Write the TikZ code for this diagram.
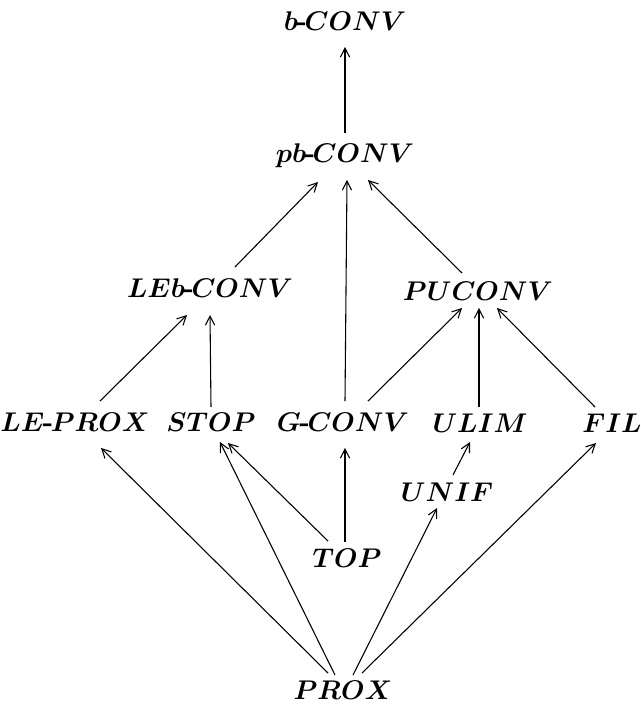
\documentclass[tikz,border=0pt]{standalone}
\usetikzlibrary{arrows.meta}
\newcommand{\lbl}[1]{{\boldmath$#1$}}
\newcommand{\hy}{\textbf{\kern-0.6pt-\kern-0.9pt}}
\begin{document}
\begin{tikzpicture}[x=0.37pt,y=-0.37pt,
  lab/.style={inner sep=0pt,font=\fontsize{10.3}{12}\selectfont},
  arr/.style={-{Straight Barb[length=3.3pt,width=3.4pt]},line width=0.4pt}]
\useasboundingbox (0,0) rectangle (641,707);
\node[lab] (bconv)   at (345,21)  {\lbl{b}\hy\lbl{CONV}};
\node[lab] (pbconv)  at (345,156) {\lbl{pb}\hy\lbl{CONV}};
\node[lab] (lebconv) at (210,288) {\lbl{LEb}\hy\lbl{CONV}};
\node[lab] (puconv)  at (478,291) {\lbl{PUCONV}};
\node[lab] (leprox)  at (75,422)  {\lbl{LE}\hy\lbl{PROX}};
\node[lab] (stop)    at (211,422) {\lbl{STOP}};
\node[lab] (gconv)   at (343,422) {\lbl{G}\hy\lbl{CONV}};
\node[lab] (ulim)    at (480,423) {\lbl{ULIM}};
\node[lab] (fil)     at (612,423) {\lbl{FIL}};
\node[lab] (unif)    at (447,492) {\lbl{UNIF}};
\node[lab] (top)     at (347,558) {\lbl{TOP}};
\node[lab] (prox)    at (343,690) {\lbl{PROX}};
\draw[arr] ([shift={(0,-23)}]pbconv.center) -- ([shift={(0,26)}]bconv.center);
\draw[arr] ([shift={(25,-21)}]lebconv.center) -- ([shift={(-27,26)}]pbconv.center);
\draw[arr] ([shift={(2,-21)}]gconv.center) -- ([shift={(2,24)}]pbconv.center);
\draw[arr] ([shift={(-16,-18)}]puconv.center) -- ([shift={(23,24)}]pbconv.center);
\draw[arr] ([shift={(25,-21)}]leprox.center) -- ([shift={(-23,27)}]lebconv.center);
\draw[arr] ([shift={(0,-15)}]stop.center) -- ([shift={(0,27)}]lebconv.center);
\draw[arr] ([shift={(25,-21)}]gconv.center) -- ([shift={(-16,17)}]puconv.center);
\draw[arr] ([shift={(-1,-16)}]ulim.center) -- ([shift={(1,17)}]puconv.center);
\draw[arr] ([shift={(-17,-16)}]fil.center) -- ([shift={(19,17)}]puconv.center);
\draw[arr] ([shift={(6,-17)}]unif.center) -- ([shift={(-10,19)}]ulim.center);
\draw[arr] ([shift={(-2,-16)}]top.center) -- ([shift={(2,26)}]gconv.center);
\draw[arr] ([shift={(-19,-17)}]top.center) -- ([shift={(17,21)}]stop.center);
\draw[arr] ([shift={(-15,-17)}]prox.center) -- ([shift={(26,26)}]leprox.center);
\draw[arr] ([shift={(-8,-15)}]prox.center) -- ([shift={(9,20)}]stop.center);
\draw[arr] ([shift={(10,-15)}]prox.center) -- ([shift={(-10,16)}]unif.center);
\draw[arr] ([shift={(19,-17)}]prox.center) -- ([shift={(-16,20)}]fil.center);
\end{tikzpicture}
\end{document}
